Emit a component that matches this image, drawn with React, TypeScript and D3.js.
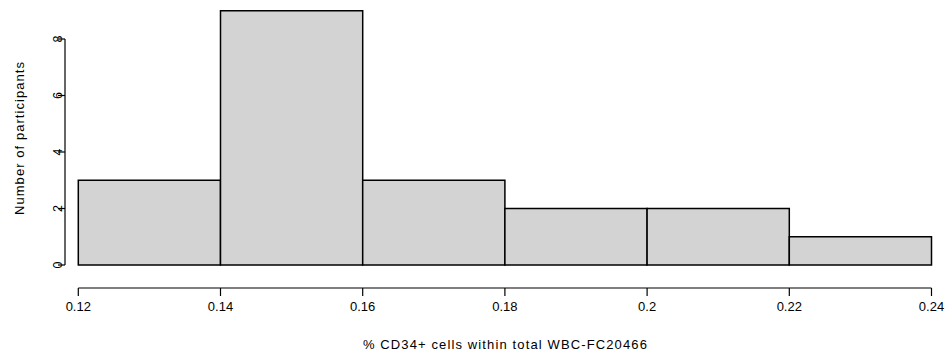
import React from "react";
import * as d3 from "d3";

const binEdges = [0.12, 0.14, 0.16, 0.18, 0.2, 0.22, 0.24];
const counts = [3, 9, 3, 2, 2, 1];
const xTicks = [0.12, 0.14, 0.16, 0.18, 0.2, 0.22, 0.24];
const yTicks = [0, 2, 4, 6, 8];
const xTitle = "% CD34+ cells within total WBC-FC20466";
const yTitle = "Number of participants";

export default function App() {
  const W = 946, H = 358;
  const x = d3.scaleLinear().domain([0.12, 0.24]).range([78.3, 931.5]);
  const y = d3.scaleLinear().domain([0, 8]).range([265, 39]);
  const font = "Liberation Sans, Arial, sans-serif";
  const axisY = 288;
  const axisX = 65;
  return (
    <svg width={W} height={H} style={{ position: "absolute", left: 0, top: 0 }} fontFamily={font}>
      <rect x={0} y={0} width={W} height={H} fill="#fff" />
      {counts.map((c, i) => (
        <rect
          key={i}
          x={x(binEdges[i])}
          y={y(c)}
          width={x(binEdges[i + 1]) - x(binEdges[i])}
          height={y(0) - y(c)}
          fill="#d3d3d3"
          stroke="#000"
          strokeWidth={1.5}
        />
      ))}
      {/* x axis */}
      <line x1={x(0.12)} x2={x(0.24)} y1={axisY} y2={axisY} stroke="#000" strokeWidth={1.2} />
      {xTicks.map((t) => (
        <g key={t}>
          <line x1={x(t)} x2={x(t)} y1={axisY} y2={axisY + 8} stroke="#000" strokeWidth={1.2} />
          <text x={x(t)} y={311} fontSize={13} textAnchor="middle">{String(t)}</text>
        </g>
      ))}
      {/* y axis */}
      <line x1={axisX} x2={axisX} y1={y(0)} y2={y(8)} stroke="#000" strokeWidth={1.2} />
      {yTicks.map((t) => (
        <g key={t}>
          <line x1={axisX} x2={axisX - 7} y1={y(t)} y2={y(t)} stroke="#000" strokeWidth={1.2} />
          <text
            transform={`translate(62,${y(t)}) rotate(-90)`}
            fontSize={12.5}
            textAnchor="middle"
          >
            {t}
          </text>
        </g>
      ))}
      <text
        x={(x(0.12) + x(0.24)) / 2}
        y={349}
        fontSize={13}
        textAnchor="middle"
        textLength={284}
        lengthAdjust="spacing"
      >
        {xTitle}
      </text>
      <text
        transform={`translate(23.5,${138.5}) rotate(-90)`}
        fontSize={13}
        textAnchor="middle"
        textLength={153}
        lengthAdjust="spacing"
      >
        {yTitle}
      </text>
    </svg>
  );
}
